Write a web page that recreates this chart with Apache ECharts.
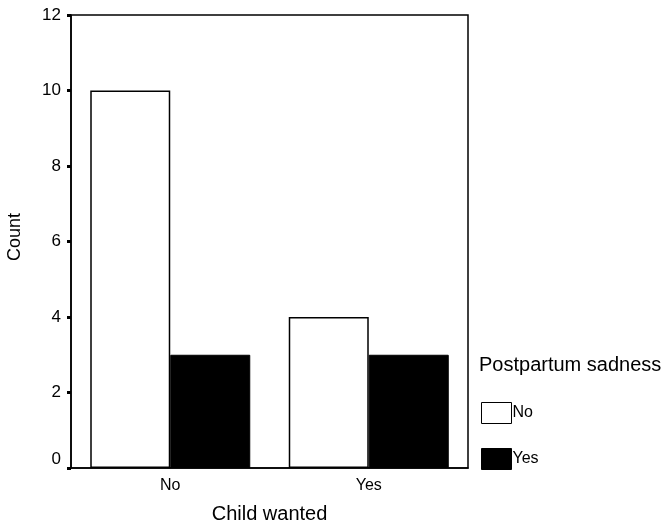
<!DOCTYPE html>
<html><head><meta charset="utf-8">
<script src="https://cdn.jsdelivr.net/npm/echarts@6/dist/echarts.min.js"></script>
<style>html,body{margin:0;padding:0;background:#fff}#c{width:670px;height:525px}</style>
</head><body><div id="c"></div>
<script>
var categories = ['No', 'Yes'];
var seriesNames = ['No', 'Yes'];
var valuesNo = [10, 4];
var valuesYes = [3, 3];
var yTicks = [0, 2, 4, 6, 8, 10, 12];

var F = '"Liberation Sans", Arial, sans-serif';
var chart = echarts.init(document.getElementById('c'), null, {renderer: 'canvas'});
chart.setOption({
  animation: false,
  backgroundColor: '#fff',
  textStyle: {fontFamily: F, color: '#000'},
  title: {
    text: 'Postpartum sadness', left: 479, top: 355, padding: 0,
    textStyle: {fontFamily: F, fontSize: 20, fontWeight: 'normal', color: '#000'}
  },
  legend: {
    orient: 'vertical', left: 481, top: 402, padding: 0, itemWidth: 30, itemHeight: 21, itemGap: 24,
    selectedMode: false,
    textStyle: {fontFamily: F, fontSize: 16, color: '#000', padding: [5, 0, 0, -4]},
    data: [
      {name: seriesNames[0], icon: 'rect', itemStyle: {color: '#fff', borderColor: '#000', borderWidth: 1}},
      {name: seriesNames[1], icon: 'rect', itemStyle: {color: '#000', borderColor: '#000', borderWidth: 1}}
    ]
  },
  grid: {left: 71, top: 15, width: 397, height: 453, outerBoundsMode: 'none', containLabel: false,
    show: true, borderColor: '#000', borderWidth: 1.5, backgroundColor: 'transparent'},
  xAxis: {
    type: 'category', data: categories,
    name: 'Child wanted', nameLocation: 'middle', nameGap: 36,
    nameTextStyle: {fontFamily: F, fontSize: 20, color: '#000'},
    axisLine: {lineStyle: {color: '#000', width: 1.5}},
    axisTick: {alignWithLabel: true, length: 4, lineStyle: {color: '#000', width: 3}},
    axisLabel: {fontFamily: F, fontSize: 16, color: '#000', margin: 10},
    splitLine: {show: false}
  },
  yAxis: {
    type: 'value', min: 0, max: 12, interval: 2,
    name: 'Count', nameLocation: 'middle', nameGap: 47, nameRotate: 90,
    nameTextStyle: {fontFamily: F, fontSize: 18, color: '#000', padding: [0, 0, 0, 9]},
    axisLine: {show: true, lineStyle: {color: '#000', width: 1.5}},
    axisTick: {show: true, length: 4, lineStyle: {color: '#000', width: 3}},
    axisLabel: {fontFamily: F, fontSize: 17, color: '#000', margin: 10, verticalAlignMinLabel: 'bottom',
      formatter: function (v) { return yTicks.indexOf(v) >= 0 ? String(v) : ''; }},
    splitLine: {show: false}
  },
  series: [
    {name: seriesNames[0], type: 'bar', data: valuesNo, barWidth: 80, barGap: '0%',
      itemStyle: {color: '#fff', borderColor: '#000', borderWidth: 1.5}},
    {name: seriesNames[1], type: 'bar', data: valuesYes, barWidth: 80, barGap: '0%',
      itemStyle: {color: '#000', borderColor: '#000', borderWidth: 1}}
  ]
});
</script></body></html>
